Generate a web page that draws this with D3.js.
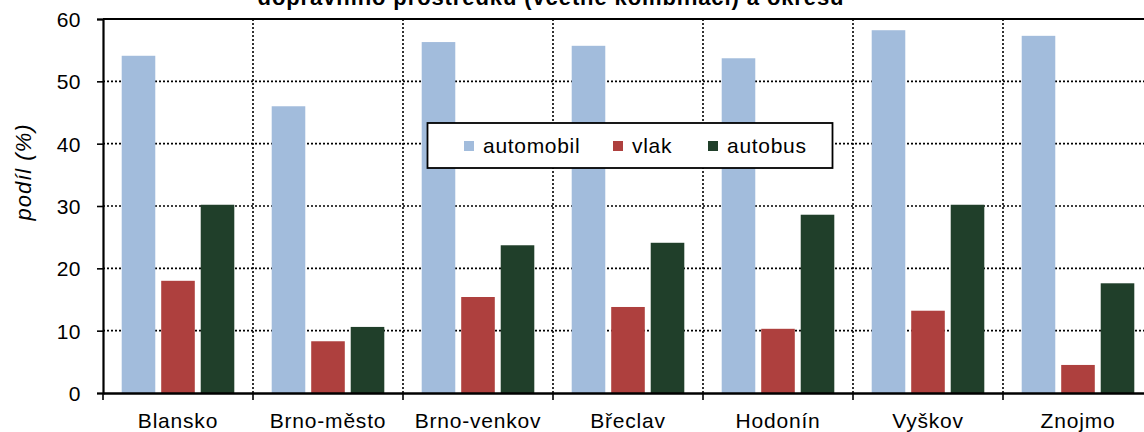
<!DOCTYPE html>
<html>
<head>
<meta charset="utf-8">
<script src="https://cdn.jsdelivr.net/npm/d3@7"></script>
<style>
  body { margin: 0; background: #fff; }
  text { font-family: "Liberation Sans", Arial, sans-serif; fill: #000; }
</style>
</head>
<body>
<svg id="chart"></svg>
<script>
const okresy = ['Blansko', 'Brno-město', 'Brno-venkov', 'Břeclav', 'Hodonín', 'Vyškov', 'Znojmo'];
const serie = ['automobil', 'vlak', 'autobus'];
const automobil = [54.1, 46.0, 56.3, 55.7, 53.7, 58.2, 57.3];
const vlak = [18.0, 8.3, 15.4, 13.8, 10.3, 13.2, 4.5];
const autobus = [30.2, 10.6, 23.7, 24.1, 28.6, 30.2, 17.6];
const yTicks = [0, 10, 20, 30, 40, 50, 60];
const barvy = ['#a2bcdc', '#ae403e', '#203f2a'];

const nadpis = 'dopravního prostředku  (včetně  kombinací)  a okresu';

const width = 1144, height = 432;
const margin = {top: 19, left: 103, bottom: 39, right: -9};

const svg = d3.select('#chart')
    .attr('width', width)
    .attr('height', height);

const hodnoty = {automobil, vlak, autobus};
const data = okresy.map((o, i) => ({okres: o, vals: serie.map(s => ({key: s, value: hodnoty[s][i]}))}));

const x = d3.scaleBand()
    .domain(okresy)
    .range([margin.left, width - margin.right])
    .padding(0);

const xIn = d3.scaleBand()
    .domain(serie)
    .range([18.7, x.bandwidth() - 18.7])
    .paddingInner(0.15);

const y = d3.scaleLinear()
    .domain([0, 60])
    .range([height - margin.bottom, margin.top]);

const color = d3.scaleOrdinal().domain(serie).range(barvy);

// mrizka
svg.append('g')
    .selectAll('line')
    .data(yTicks.filter(d => d > 0 && d < 60))
    .enter().append('line')
    .attr('x1', margin.left).attr('x2', width)
    .attr('y1', d => y(d)).attr('y2', d => y(d))
    .attr('stroke', '#000')
    .attr('stroke-width', 1.6)
    .attr('stroke-dasharray', '2,2');

svg.append('g')
    .selectAll('line')
    .data(okresy.slice(1))
    .enter().append('line')
    .attr('x1', d => x(d)).attr('x2', d => x(d))
    .attr('y1', y(60)).attr('y2', y(0))
    .attr('stroke', '#000')
    .attr('stroke-width', 1.6)
    .attr('stroke-dasharray', '2,2');

// sloupce
svg.append('g')
    .selectAll('g')
    .data(data)
    .enter().append('g')
    .attr('transform', d => `translate(${x(d.okres)},0)`)
    .selectAll('rect')
    .data(d => d.vals)
    .enter().append('rect')
    .attr('x', d => xIn(d.key))
    .attr('width', xIn.bandwidth())
    .attr('y', d => y(d.value))
    .attr('height', d => y(0) - y(d.value))
    .attr('fill', d => color(d.key));

// horni okraj
svg.append('line')
    .attr('x1', margin.left).attr('x2', width)
    .attr('y1', y(60)).attr('y2', y(60))
    .attr('stroke', '#000').attr('stroke-width', 2);

// osa y
const yAxis = svg.append('g')
    .attr('transform', `translate(${margin.left},0)`)
    .call(d3.axisLeft(y).tickValues(yTicks).tickSize(6).tickPadding(16));
yAxis.select('.domain').attr('stroke-width', 2.2);
yAxis.selectAll('.tick line').attr('stroke-width', 1.6);
yAxis.selectAll('text')
    .style('font-size', '21px')
    .style('letter-spacing', '0.5px')
    .attr('dy', '0.36em');

// osa x
const xAxis = svg.append('g')
    .attr('transform', `translate(0,${y(0)})`)
    .call(d3.axisBottom(x).tickSize(0).tickPadding(0));
xAxis.select('.domain').attr('stroke-width', 2.6);
xAxis.selectAll('text')
    .attr('y', 0)
    .attr('dy', 0)
    .attr('transform', `translate(0,${428 - y(0)})`)
    .style('font-size', '21px')
    .style('letter-spacing', '0.8px');

svg.append('g')
    .selectAll('line')
    .data(okresy)
    .enter().append('line')
    .attr('x1', d => x(d)).attr('x2', d => x(d))
    .attr('y1', y(0)).attr('y2', y(0) + 7)
    .attr('stroke', '#000')
    .attr('stroke-width', 1.6);

// popisek osy y
svg.append('text')
    .attr('transform', 'translate(31,172) rotate(-90)')
    .attr('text-anchor', 'middle')
    .style('font-size', '22px')
    .style('letter-spacing', '1px')
    .style('font-style', 'italic')
    .text('podíl (%)');

// nadpis (orezany)
svg.append('text')
    .attr('x', 551)
    .attr('y', 5)
    .attr('text-anchor', 'middle')
    .style('font-size', '22px')
    .style('font-weight', 'bold')
    .style('letter-spacing', '0.9px')
    .text(nadpis);

// legenda
const leg = svg.append('g');
leg.append('rect')
    .attr('x', 427.5).attr('y', 123)
    .attr('width', 405).attr('height', 45)
    .attr('fill', '#fff')
    .attr('stroke', '#000')
    .attr('stroke-width', 1.8);

const legX = [464, 613, 708];
const legItem = leg.selectAll('g.item')
    .data(serie)
    .enter().append('g')
    .attr('class', 'item')
    .attr('transform', (d, i) => `translate(${legX[i]},141)`);
legItem.append('rect')
    .attr('width', 10).attr('height', 10)
    .attr('fill', d => color(d));
legItem.append('text')
    .attr('x', 19)
    .attr('y', 12)
    .style('font-size', '21px')
    .style('letter-spacing', '0.7px')
    .text(d => d);
</script>
</body>
</html>
